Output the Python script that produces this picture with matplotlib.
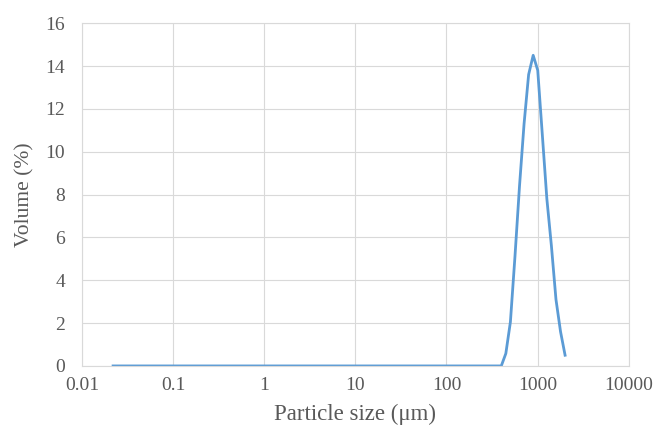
import matplotlib
matplotlib.use('Agg')
import matplotlib.pyplot as plt

# particle size classes (um) and volume (%)
size = [0.022, 399.1, 447.7, 502.4, 563.7, 632.5, 709.6, 796.2, 893.4,
        1002, 1125, 1262, 1416, 1589, 1783, 2000]
volume = [0, 0, 0.58, 2.05, 5.1, 8.4, 11.3, 13.6, 14.5,
          13.8, 10.8, 7.8, 5.6, 3.1, 1.6, 0.5]

xticks = [0.01, 0.1, 1, 10, 100, 1000, 10000]
xlabels = ['0.01', '0.1', '1', '10', '100', '1000', '10000']

plt.rcParams['font.family'] = ['Liberation Serif', 'DejaVu Serif']

fig = plt.figure(figsize=(6.55, 4.29), dpi=100)
ax = fig.add_axes([0.125, 0.147, 0.835, 0.799])
ax.plot(size, volume, color='#5B9BD5', linewidth=2)

ax.set_xscale('log')
ax.set_xlim(0.01, 10000)
ax.set_ylim(0, 16)
ax.set_xticks(xticks)
ax.set_xticklabels(xlabels)
ax.set_yticks(range(0, 17, 2))
ax.minorticks_off()
ax.grid(True, color='#d9d9d9', linewidth=0.8)
ax.set_axisbelow(True)
for s in ax.spines.values():
    s.set_color('#d9d9d9')
ax.tick_params(length=0, labelsize=14, labelcolor='#595959')
ax.tick_params(axis='x', pad=8)
ax.tick_params(axis='y', pad=12)

ax.set_xlabel('Particle size (\u03bcm)', fontsize=16.5, color='#595959', labelpad=7)
ax.set_ylabel('Volume (%)', fontsize=15.5, color='#595959', labelpad=8)

fig.savefig('out.png', dpi=100)
